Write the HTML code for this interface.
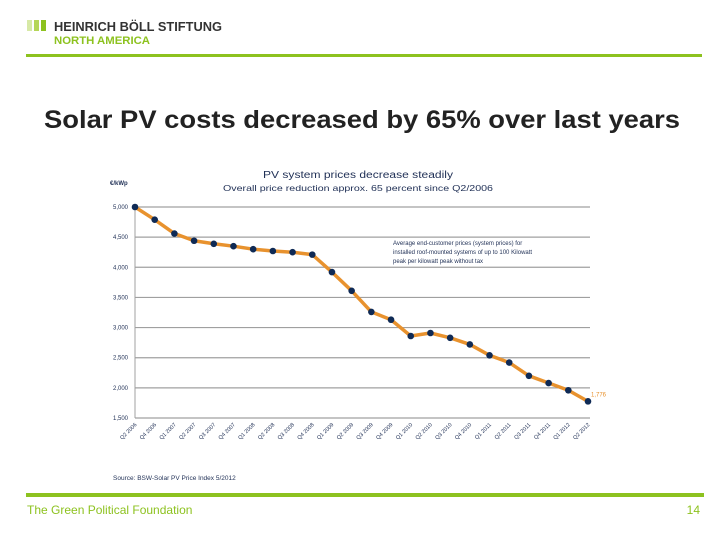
<!DOCTYPE html>
<html><head><meta charset="utf-8"><style>
body{margin:0;background:#fff}
svg{display:block;font-family:"Liberation Sans",sans-serif}
</style></head><body>
<svg width="728" height="546" viewBox="0 0 728 546">
<g>
<rect x="27" y="20" width="5" height="11" fill="#d7e9a6"/>
<rect x="34" y="20" width="5" height="11" fill="#b5d657"/>
<rect x="41" y="20" width="5" height="11" fill="#8dc21f"/>
<text x="54" y="31" font-size="13" font-weight="bold" fill="#333" textLength="168" lengthAdjust="spacingAndGlyphs">HEINRICH BÖLL STIFTUNG</text>
<text x="54" y="44" font-size="11" font-weight="bold" fill="#8dc21f" textLength="96" lengthAdjust="spacingAndGlyphs">NORTH AMERICA</text>
</g>
<rect x="26" y="54" width="676" height="3" fill="#8dc21f"/>
<text x="362" y="128" text-anchor="middle" font-size="25" font-weight="bold" fill="#222" textLength="636" lengthAdjust="spacingAndGlyphs">Solar PV costs decreased by 65% over last years</text>
<text x="358" y="178" text-anchor="middle" font-size="10" fill="#1f2f55" textLength="190" lengthAdjust="spacingAndGlyphs">PV system prices decrease steadily</text>
<text x="358" y="191" text-anchor="middle" font-size="8.5" fill="#1f2f55" textLength="270" lengthAdjust="spacingAndGlyphs">Overall price reduction approx. 65 percent  since Q2/2006</text>
<text x="110" y="185" font-size="6" font-weight="bold" fill="#1f2f55">€/kWp</text>
<text x="393" y="245" font-size="6" fill="#1f2f55">Average end-customer prices (system prices) for</text>
<text x="393" y="254" font-size="6" fill="#1f2f55">installed roof-mounted systems of up to 100 Kilowatt</text>
<text x="393" y="263" font-size="6" fill="#1f2f55">peak per kilowatt peak without tax</text>
<g id="chart"></g>
<text x="113" y="480" font-size="6.5" fill="#1f2f55">Source: BSW-Solar  PV Price Index 5/2012</text>
<rect x="26" y="493" width="678" height="4" fill="#8dc21f"/>
<text x="27" y="514" font-size="12" fill="#8dc21f">The Green Political Foundation</text>
<text x="700" y="514" text-anchor="end" font-size="12" fill="#8dc21f">14</text>
</svg>
<script>
const categories=["Q2 2006","Q4 2006","Q1 2007","Q2 2007","Q3 2007","Q4 2007","Q1 2008","Q2 2008","Q3 2008","Q4 2008","Q1 2009","Q2 2009","Q3 2009","Q4 2009","Q1 2010","Q2 2010","Q3 2010","Q4 2010","Q1 2011","Q2 2011","Q3 2011","Q4 2011","Q1 2012","Q2 2012"];
const prices=[5000,4790,4560,4440,4390,4350,4300,4270,4250,4210,3920,3610,3260,3130,2860,2910,2830,2720,2540,2420,2200,2080,1960,1776];
const yTicks=[1500,2000,2500,3000,3500,4000,4500,5000];
const yTickLabels=["1,500","2,000","2,500","3,000","3,500","4,000","4,500","5,000"];
const lastLabel="1,776";
const NS="http://www.w3.org/2000/svg";
const g=document.getElementById('chart');
const x0=135,x1=588,yTop=207,yBot=418,vMin=1500,vMax=5000;
const xs=i=>x0+(x1-x0)*i/(categories.length-1);
const ys=v=>yBot-(v-vMin)/(vMax-vMin)*(yBot-yTop);
function mk(t,a){const e=document.createElementNS(NS,t);for(const k in a)e.setAttribute(k,a[k]);g.appendChild(e);return e;}
yTicks.forEach((v,i)=>{
 const l=mk('line',{x1:x0,x2:590,y1:ys(v),y2:ys(v),stroke:'#a0a0a0','stroke-width':1.2});
 
 
 const t=mk('text',{x:x0-7,y:ys(v)+2,'text-anchor':'end','font-size':6,fill:'#1f2f55'});
 t.textContent=yTickLabels[i];
 
 
});
const ax=mk('line',{x1:x0,x2:x0,y1:yTop,y2:yBot,stroke:'#a0a0a0','stroke-width':1});


categories.forEach((c,i)=>{
 const t=mk('text',{transform:`translate(${xs(i)+2},${yBot+7}) rotate(-45)`,'text-anchor':'end','font-size':5.5,fill:'#1f2f55'});
 t.textContent=c;
 
 
});
const line=mk('polyline',{points:prices.map((v,i)=>xs(i)+','+ys(v)).join(' '),fill:'none',stroke:'#e8922e','stroke-width':3.5,'stroke-linejoin':'round'});


prices.forEach((v,i)=>{
 const p=mk('circle',{cx:xs(i),cy:ys(v),r:3.3,fill:'#0f2a55'});
 
 
});
const ll=mk('text',{x:xs(prices.length-1)+3,y:ys(prices[prices.length-1])-5,'font-size':6,fill:'#e8922e'});
ll.textContent=lastLabel;


</script>
</body></html>
